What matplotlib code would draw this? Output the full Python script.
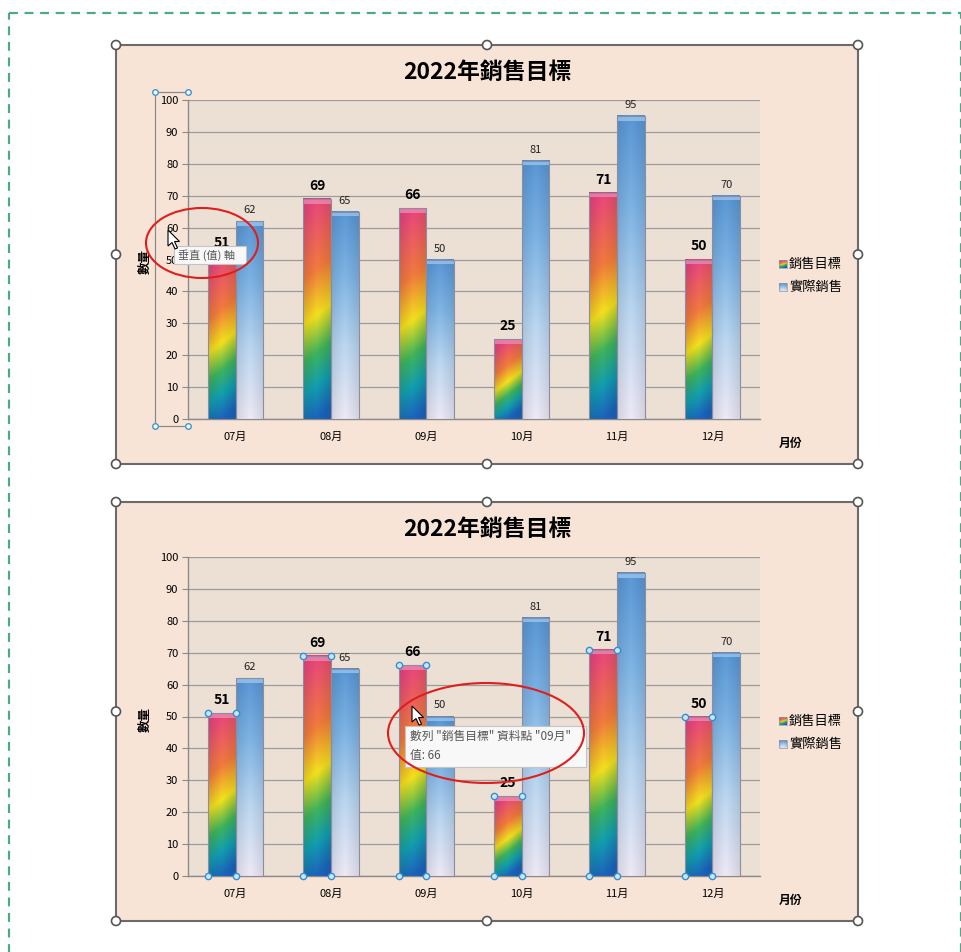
import numpy as np
import matplotlib
matplotlib.use('Agg')
import matplotlib.pyplot as plt
from matplotlib.colors import LinearSegmentedColormap
from matplotlib.patches import Rectangle, Ellipse, Polygon, Circle

plt.rcParams['font.family'] = ['Noto Sans CJK TC', 'DejaVu Sans']

# data
months = ['07月', '08月', '09月', '10月', '11月', '12月']
target = [51, 69, 66, 25, 71, 50]
actual = [62, 65, 50, 81, 95, 70]
yticks = list(range(0, 101, 10))
title = '2022年銷售目標'
series_names = ['銷售目標', '實際銷售']
ylabel = '數量'
xlabel = '月份'

W, H = 962, 952
fig = plt.figure(figsize=(W / 100, H / 100), dpi=100)
fig.patch.set_facecolor('white')


def rect(x0, y0, x1, y1):
    return [x0 / W, 1 - y1 / H, (x1 - x0) / W, (y1 - y0) / H]


# colour ramps
rainbow = LinearSegmentedColormap.from_list('rb', [
    (0.0, '#1c64bd'), (0.15, '#129fb0'), (0.30, '#3fb45c'),
    (0.47, '#f5e11e'), (0.68, '#f27c3c'), (1.0, '#e9467e')])
bluegrad = LinearSegmentedColormap.from_list('bl', [
    (0.0, '#eeeaf7'), (0.35, '#bcd8f2'), (0.7, '#7db4e6'), (1.0, '#5a98d6')])


def grad_img(cmap, diag):
    ny, nx = 120, 20
    yy, xx = np.mgrid[0:ny, 0:nx]
    t = yy / (ny - 1) - diag * (xx / (nx - 1) - 0.5)
    img = cmap(np.clip(t, 0, 1))[..., :3]
    # slight darkening at the bar sides
    shade = 1 - 0.10 * np.abs(xx / (nx - 1) - 0.5) * 2
    return img * shade[..., None]


img_a = grad_img(bluegrad, 0.0)

# background overlay (frames) and foreground overlay (handles, tooltips)
bg = fig.add_axes([0, 0, 1, 1], zorder=0)
bg.set_xlim(0, W); bg.set_ylim(H, 0); bg.axis('off')
fg = fig.add_axes([0, 0, 1, 1], zorder=10)
fg.set_xlim(0, W); fg.set_ylim(H, 0); fg.axis('off')
fg.patch.set_alpha(0)

# outer dashed selection border
bg.add_patch(Rectangle((9, 13), 952, 960, fill=False, edgecolor='#4fa987',
                       lw=1.6, ls=(0, (4, 3)), clip_on=False))

bar_w = 0.29


def cursor(x, y):
    pts = np.array([(0, 0), (0, 16), (4, 12.5), (7, 19), (9.5, 18), (6.5, 11.5), (11.5, 11.5)])
    fg.add_patch(Polygon(pts + [x, y], closed=True, facecolor='white',
                         edgecolor='black', lw=0.8, zorder=20))


def draw_chart(top, mode):
    # frame
    bg.add_patch(Rectangle((116, top), 742, 419, facecolor='#f7e4d6',
                           edgecolor='#6b6b6b', lw=1.5))
    ax = fig.add_axes(rect(188, top + 55, 760, top + 374), zorder=5)
    ax.set_facecolor('#ece0d4')
    x = np.arange(len(months))
    for i in range(len(months)):
        # rainbow runs diagonally, about the same slant in every bar
        img_t = grad_img(rainbow, min(0.25, 6.3 / target[i]))
        for h, img, x0, cap in ((target[i], img_t, x[i] - bar_w, '#f08cb4'),
                                (actual[i], img_a, x[i], '#9cc9f0')):
            ax.imshow(img, extent=(x0, x0 + bar_w, 0, h), origin='lower',
                      aspect='auto', interpolation='bilinear', zorder=3)
            ax.add_patch(Rectangle((x0, h - 1.5), bar_w, 1.5, facecolor=cap,
                                   alpha=0.75, edgecolor='none', zorder=4))
            ax.add_patch(Rectangle((x0, 0), bar_w, h, fill=False,
                                   edgecolor='#8c8ca6', lw=0.8, zorder=4))
        ax.annotate(str(target[i]), (x[i] - bar_w / 2, target[i]), xytext=(0, 6),
                    textcoords='offset pixels', ha='center', va='bottom',
                    fontsize=10, fontweight='bold', color='black', zorder=6)
        ax.annotate(str(actual[i]), (x[i] + bar_w / 2, actual[i]), xytext=(0, 6),
                    textcoords='offset pixels', ha='center', va='bottom',
                    fontsize=8, color='#222222', zorder=6)
    ax.set_xlim(-0.5, len(months) - 0.5)
    ax.set_ylim(0, 100)
    ax.set_yticks(yticks)
    ax.set_xticks(x)
    ax.set_xticklabels(months, fontsize=8)
    ax.tick_params(axis='y', labelsize=8, length=4, color='#8a8a8a', pad=3)
    ax.tick_params(axis='x', length=0, pad=9)
    ax.yaxis.grid(True, color='#9c9c9c', lw=0.9)
    ax.set_axisbelow(True)
    for s in ('top', 'right'):
        ax.spines[s].set_visible(False)
    for s in ('left', 'bottom'):
        ax.spines[s].set_color('#8a8a8a')
        ax.spines[s].set_linewidth(1.0)

    # texts
    fg.text(487, top + 27, title, ha='center', va='center', fontsize=16.5,
            fontweight='bold')
    fg.text(145, top + 217, ylabel, ha='center', va='center', rotation=90,
            fontsize=9, fontweight='bold')
    fg.text(791, top + 398, xlabel, ha='center', va='center', fontsize=8.5,
            fontweight='bold')

    # legend
    for k, (name, img) in enumerate(zip(series_names, (grad_img(rainbow, 0.3), img_a))):
        yc = top + 219 + k * 23
        fg.imshow(img, extent=(779, 787, yc + 4, yc - 4), origin='lower',
                  aspect='auto', interpolation='bilinear', zorder=5)
        fg.add_patch(Rectangle((779, yc - 4), 8, 8, fill=False,
                               edgecolor='#9494ac', lw=0.5, zorder=6))
        fg.text(789, yc, name, ha='left', va='center', fontsize=9.5)

    # frame handles
    for hx in (116, 487, 858):
        for hy in (top, top + 209.5, top + 419):
            if hx == 487 and hy == top + 209.5:
                continue
            fg.add_patch(Circle((hx, hy), 4.5, facecolor='white',
                                edgecolor='#555555', lw=1.2, zorder=8))

    if mode == 'axis':
        # vertical axis selected
        fg.plot([188, 155, 155, 188], [top + 47, top + 47, top + 381, top + 381],
                color='#8a8a8a', lw=0.9, zorder=7)
        fg.plot([155, 188, 155, 188], [top + 47, top + 47, top + 381, top + 381],
                ls='none', marker='o', ms=4, mfc='white', mec='#3a96d6', mew=1,
                zorder=8)
        fg.add_patch(Rectangle((174, top + 201), 72, 18, facecolor='#f8f8f8',
                               edgecolor='#c4c4c4', lw=0.8, zorder=9))
        fg.text(178, top + 210, '垂直 (值) 軸', ha='left', va='center',
                fontsize=8, color='#555555', zorder=10)
        fg.add_patch(Ellipse((202, top + 198), 112, 70, fill=False,
                             edgecolor='#e01e1e', lw=1.5, zorder=11))
        cursor(168, top + 185)
    else:
        # target series selected
        for i in range(len(months)):
            xs = [x[i] - bar_w, x[i], x[i] - bar_w, x[i]]
            ys = [target[i], target[i], 0, 0]
            ax.plot(xs, ys, ls='none', marker='o', ms=4.5, mfc='#cfe6f7',
                    mec='#2f8fd8', mew=1, clip_on=False, zorder=7)
        sel = 2
        fg.add_patch(Rectangle((405, top + 224), 181, 41, facecolor='#f8f8f8',
                               edgecolor='#c4c4c4', lw=0.8, zorder=9))
        fg.text(410, top + 234, f'數列 "{series_names[0]}" 資料點 "{months[sel]}"',
                ha='left', va='center', fontsize=8.5, color='#555555', zorder=10)
        fg.text(410, top + 253, f'值: {target[sel]}', ha='left', va='center',
                fontsize=8.5, color='#555555', zorder=10)
        fg.add_patch(Ellipse((486, top + 231), 196, 100, fill=False,
                             edgecolor='#e01e1e', lw=1.5, zorder=11))
        cursor(412, top + 204)
    return ax


draw_chart(45, 'axis')
draw_chart(502, 'series')

fg.set_xlim(0, W); fg.set_ylim(H, 0)

plt.savefig('out.png', dpi=100)
